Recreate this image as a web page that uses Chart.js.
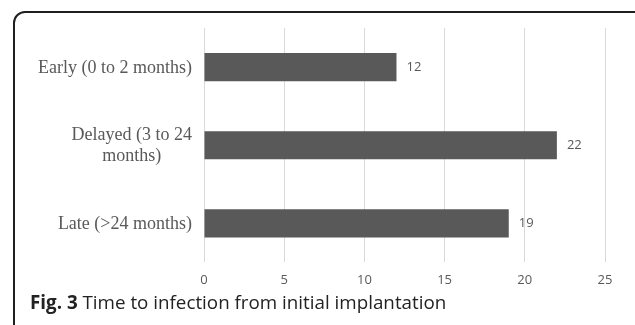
<!DOCTYPE html>
<html>
<head>
<meta charset="utf-8">
<script src="https://cdn.jsdelivr.net/npm/chart.js@4"></script>
<style>
  html, body { margin:0; padding:0; background:#fff; width:635px; height:325px; overflow:hidden; }
  .frame { position:absolute; left:13px; top:11px; width:640px; height:340px; border:2px solid #1f1f1f; border-radius:12px; box-sizing:border-box; }
  #wrap { position:absolute; left:0; top:0; width:635px; height:325px; }
  .caption { position:absolute; left:30px; top:290px; font-family:"Open Sans", sans-serif; font-size:18.8px; color:#222; white-space:nowrap; line-height:24px; }
  .caption b { font-weight:700; }
</style>
</head>
<body>
<div class="frame"></div>
<div id="wrap"><canvas id="ch" width="635" height="325"></canvas></div>
<div class="caption"><b>Fig. 3</b> Time to infection from initial implantation</div>
<script>
// data
const categories = [['Early (0 to 2 months)'], ['Delayed (3 to 24', 'months)'], ['Late (>24 months)']];
const counts = [12, 22, 19];
const xTicks = [0, 5, 10, 15, 20, 25];

const GREY = '#595959';

// category labels: block right-aligned, lines centred inside the block
const catLabels = {
  id:'catLabels',
  afterDraw(chart){
    const ctx = chart.ctx, y = chart.scales.y;
    const right = 192, lh = 21;
    ctx.save();
    ctx.font = '18px "Liberation Serif", "Times New Roman", serif';
    ctx.fillStyle = GREY;
    ctx.textBaseline = 'middle';
    ctx.textAlign = 'center';
    categories.forEach((lines, i) => {
      const w = Math.max(...lines.map(l => ctx.measureText(l).width));
      const cx = right - w/2;
      const cy = y.getPixelForValue(i) - (lines.length-1)*lh/2 + 1;
      lines.forEach((l, k) => ctx.fillText(l, cx, cy + k*lh));
    });
    ctx.restore();
  }
};

// value labels next to bars
const valueLabels = {
  id:'valueLabels',
  afterDatasetsDraw(chart){
    const ctx = chart.ctx;
    const meta = chart.getDatasetMeta(0);
    ctx.save();
    ctx.font = '13px "Open Sans", sans-serif';
    ctx.fillStyle = GREY;
    ctx.textBaseline = 'middle';
    ctx.textAlign = 'left';
    meta.data.forEach((bar, i) => ctx.fillText(String(counts[i]), bar.x + 10, bar.y));
    ctx.restore();
  }
};

new Chart(document.getElementById('ch'), {
  type:'bar',
  data:{
    labels: categories.map(c => c.join(' ')),
    datasets:[{data:counts, backgroundColor:GREY, borderWidth:0, categoryPercentage:1, barPercentage:0.36}]
  },
  options:{
    indexAxis:'y',
    responsive:false,
    animation:false,
    events:[],
    layout:{padding:{left:204, right:30, top:28, bottom:27}},
    plugins:{legend:{display:false}, tooltip:{enabled:false}},
    scales:{
      x:{
        min:0, max:25,
        afterBuildTicks(s){ s.ticks = xTicks.map(v => ({value:v})); },
        grid:{color:'#d9d9d9', drawTicks:false, lineWidth:1},
        border:{display:false},
        ticks:{color:GREY, padding:10, maxRotation:0, font:{family:'"Open Sans", sans-serif', size:13}}
      },
      y:{display:false}
    }
  },
  plugins:[catLabels, valueLabels]
});
</script>
</body>
</html>
